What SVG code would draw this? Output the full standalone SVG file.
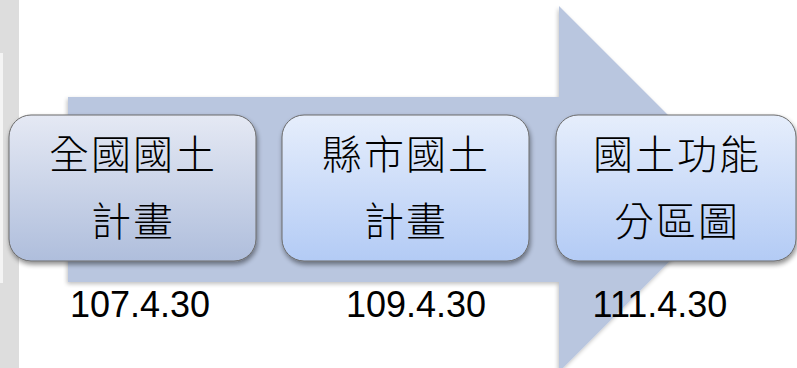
<svg xmlns="http://www.w3.org/2000/svg" width="797" height="368" viewBox="0 0 797 368">
  <defs>
    <linearGradient id="g1" x1="0" y1="0" x2="0" y2="1">
      <stop offset="0" stop-color="#e5e9f4"/>
      <stop offset="1" stop-color="#afbedc"/>
    </linearGradient>
    <linearGradient id="g2" x1="0" y1="0" x2="0" y2="1">
      <stop offset="0" stop-color="#e6eefc"/>
      <stop offset="1" stop-color="#b3cbf5"/>
    </linearGradient>
    <filter id="sh" x="-10%" y="-10%" width="125%" height="130%">
      <feGaussianBlur in="SourceAlpha" stdDeviation="2.5"/>
      <feOffset dx="1" dy="3" result="b"/>
      <feComponentTransfer><feFuncA type="linear" slope="0.45"/></feComponentTransfer>
      <feMerge><feMergeNode/><feMergeNode in="SourceGraphic"/></feMerge>
    </filter>
    <filter id="ash" x="-10%" y="-10%" width="120%" height="120%">
      <feGaussianBlur in="SourceAlpha" stdDeviation="2"/>
      <feOffset dx="-1" dy="2" result="b"/>
      <feComponentTransfer><feFuncA type="linear" slope="0.25"/></feComponentTransfer>
      <feMerge><feMergeNode/><feMergeNode in="SourceGraphic"/></feMerge>
    </filter>
  </defs>
  <style>
    .box { stroke: #6a6a6a; stroke-width: 1; }
    .cjk { font-family: "Noto Sans CJK TC", "Noto Sans CJK SC", sans-serif; font-size: 40px; font-weight: 300; fill: #000; text-anchor: middle; letter-spacing: 2px; }
    .date { font-family: "Liberation Sans", Arial, sans-serif; font-size: 36px; fill: #000; text-anchor: middle; }
  </style>
  <rect width="797" height="368" fill="#ffffff"/>
  <g id="sidebar">
    <rect x="0" y="0" width="19" height="368" fill="#dddddd"/>
    <rect x="0" y="53" width="3" height="230" fill="#f4f4f4"/>
  </g>
  <g id="connectors">
    <path id="arrow" d="M68,97 H559 V6 L742,189 L559,372 V282 H68 Z" fill="#b9c6df" filter="url(#ash)"/>
  </g>
  <g id="node1">
    <rect class="box" x="9" y="115" width="247" height="146" rx="22" fill="url(#g1)" filter="url(#sh)"/>
    <text class="cjk" x="133" y="169">全國國土</text>
    <text class="cjk" x="133" y="236">計畫</text>
  </g>
  <g id="node2">
    <rect class="box" x="282" y="115" width="247" height="146" rx="22" fill="url(#g2)" filter="url(#sh)"/>
    <text class="cjk" x="406" y="169">縣市國土</text>
    <text class="cjk" x="406" y="236">計畫</text>
  </g>
  <g id="node3">
    <rect class="box" x="556" y="115" width="240" height="146" rx="22" fill="url(#g2)" filter="url(#sh)"/>
    <text class="cjk" x="677" y="169">國土功能</text>
    <text class="cjk" x="677" y="236">分區圖</text>
  </g>
  <g id="dates">
    <text class="date" x="140" y="317">107.4.30</text>
    <text class="date" x="416" y="317">109.4.30</text>
    <text class="date" x="660" y="317">111.4.30</text>
  </g>
</svg>
